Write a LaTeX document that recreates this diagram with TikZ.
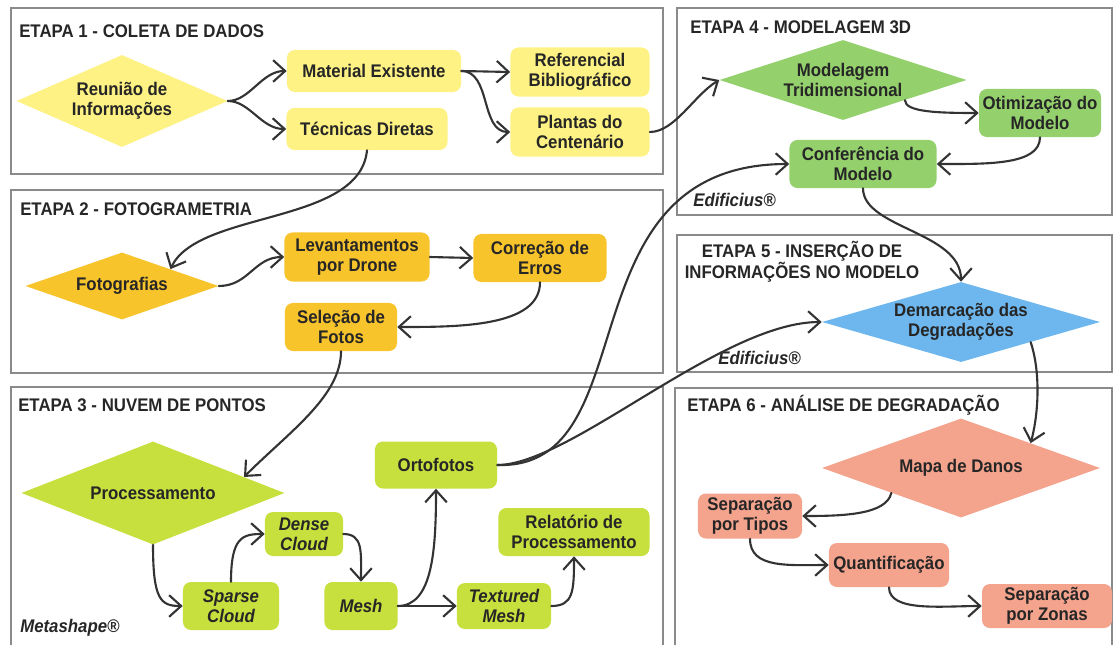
\documentclass[tikz,border=0pt]{standalone}
\usepackage{fontspec}
\setmainfont{Liberation Sans}[FakeStretch=0.92]
\usetikzlibrary{shapes.geometric,arrows.meta}
\definecolor{amarelo}{HTML}{FDF283}
\definecolor{laranja}{HTML}{F8C42C}
\definecolor{lima}{HTML}{C7E03E}
\definecolor{verde}{HTML}{94D16D}
\definecolor{azul}{HTML}{6DB7EE}
\definecolor{salmao}{HTML}{F4A38D}
\definecolor{moldura}{HTML}{8A8A8A}
\definecolor{tinta}{HTML}{262626}
\definecolor{seta}{HTML}{333333}

\begin{document}
\begin{tikzpicture}[x=0.025cm, y=-0.025cm,
		every node/.style={font=\bfseries\fontsize{13}{14.2}\selectfont, text=tinta},
		etapa/.style={draw=moldura, line width=1.8pt},
		titulo/.style={anchor=west, inner sep=0pt},
		caixa/.style={rounded corners=0.2cm, align=center, inner sep=0pt},
		losango/.style={diamond, align=center, inner sep=0pt},
		inclinado/.style={font=\bfseries\itshape\fontsize{13}{14.2}\selectfont},
		nota/.style={anchor=west, inner sep=0pt, inclinado},
		fluxo/.style={color=seta, line width=1.5pt, line cap=round, line join=round, -{Straight Barb[length=3mm, width=5.4mm]}}]
		
		\useasboundingbox (0,0) rectangle (1115,644);
		\fill[white] (0,0) rectangle (1115,644);
		\clip (0,0) rectangle (1115,644);
		
		% etapa 1
		\draw[etapa] (11,8) rectangle (663,174);
		\node[titulo] (t1) at (19,31) {ETAPA 1 - COLETA DE DADOS};
		\node[losango, aspect=2.3, fill=amarelo, minimum width=5.275cm, minimum height=2.3cm] (reuniao) at (122,101) {Reunião de\\Informações};
		\node[caixa, fill=amarelo, minimum width=4.35cm, minimum height=1.05cm] (material) at (374,71) {Material Existente};
		\node[caixa, fill=amarelo, minimum width=4.025cm, minimum height=1.05cm] (tecnicas) at (367,129) {Técnicas Diretas};
		\node[caixa, fill=amarelo, minimum width=3.475cm, minimum height=1.225cm] (referencial) at (580,72) {Referencial\\Bibliográfico};
		\node[caixa, fill=amarelo, minimum width=3.475cm, minimum height=1.225cm] (plantas) at (580,132) {Plantas do\\Centenário};
		
		% etapa 2
		\draw[etapa] (11,190) rectangle (663,373);
		\node[titulo] (t2) at (20,209) {ETAPA 2 - FOTOGRAMETRIA};
		\node[losango, aspect=2.9, fill=laranja, minimum width=4.825cm, minimum height=1.675cm] (fotografias) at (122,286) {Fotografias};
		\node[caixa, fill=laranja, minimum width=3.625cm, minimum height=1.225cm] (levantamentos) at (357,257) {Levantamentos\\por Drone};
		\node[caixa, fill=laranja, minimum width=3.325cm, minimum height=1.2cm] (correcao) at (540,258) {Correção de\\Erros};
		\node[caixa, fill=laranja, minimum width=2.8cm, minimum height=1.2cm] (selecao) at (341,327) {Seleção de\\Fotos};
		
		% etapa 3
		\draw[etapa] (11,387) rectangle (663,660);
		\node[titulo] (t3) at (18,405) {ETAPA 3 - NUVEM DE PONTOS};
		\node[losango, aspect=2.55, fill=lima, minimum width=6.575cm, minimum height=2.575cm] (processamento) at (153,493) {Processamento};
		\node[caixa, inclinado, fill=lima, minimum width=2.4cm, minimum height=1.2cm] (sparse) at (231,606) {Sparse\\Cloud};
		\node[caixa, inclinado, fill=lima, minimum width=1.95cm, minimum height=1.1cm] (dense) at (304,534) {Dense\\Cloud};
		\node[caixa, inclinado, fill=lima, minimum width=1.825cm, minimum height=1.2cm] (mesh) at (361,606) {Mesh};
		\node[caixa, fill=lima, minimum width=3.05cm, minimum height=1.175cm] (ortofotos) at (436,465) {Ortofotos};
		\node[caixa, inclinado, fill=lima, minimum width=2.35cm, minimum height=1.15cm] (textured) at (504,606) {Textured\\Mesh};
		\node[caixa, fill=lima, minimum width=3.775cm, minimum height=1.2cm] (relatorio) at (574,532) {Relatório de\\Processamento};
		\node[nota] (metashape) at (20,628) {Metashape®};
		
		% etapa 4
		\draw[etapa] (677,8) rectangle (1112,215);
		\node[titulo] (t4) at (690,27) {ETAPA 4 - MODELAGEM 3D};
		\node[losango, aspect=3.1, fill=verde, minimum width=6.175cm, minimum height=2cm] (modelagem) at (843,80) {Modelagem\\Tridimensional};
		\node[caixa, fill=verde, minimum width=3.05cm, minimum height=1.2cm] (otimizacao) at (1040,113) {Otimização do\\Modelo};
		\node[caixa, fill=verde, minimum width=3.675cm, minimum height=1.2cm] (conferencia) at (863,164) {Conferência do\\Modelo};
		\node[nota] (edificius1) at (693,200) {Edificius®};
		
		% etapa 5
		\draw[etapa] (677,235) rectangle (1112,372);
		\node[align=center, inner sep=0pt] (t5) at (802,262) {ETAPA 5 - INSERÇÃO DE\\INFORMAÇÕES NO MODELO};
		\node[losango, aspect=3.5, fill=azul, minimum width=6.95cm, minimum height=2cm] (demarcacao) at (961,322) {Demarcação das\\Degradações};
		\node[nota] (edificius2) at (718,358) {Edificius®};
		
		% etapa 6
		\draw[etapa] (675,388) rectangle (1112,660);
		\node[titulo] (t6) at (687,405) {ETAPA 6 - ANÁLISE DE DEGRADAÇÃO};
		\node[losango, aspect=2.8, fill=salmao, minimum width=6.95cm, minimum height=2.475cm] (mapa) at (961,468) {Mapa de Danos};
		\node[caixa, fill=salmao, minimum width=2.6cm, minimum height=1.125cm] (tipos) at (750,516) {Separação\\por Tipos};
		\node[caixa, fill=salmao, minimum width=3cm, minimum height=1.1cm] (quantificacao) at (889,565) {Quantificação};
		\node[caixa, fill=salmao, minimum width=3.25cm, minimum height=1.1cm] (zonas) at (1047,606) {Separação\\por Zonas};
		
		% setas etapa 1 e 2
		\draw[fluxo] (reuniao.east) .. controls +(22,0) and +(-25,0) .. (material.west);
		\draw[fluxo] (reuniao.east) .. controls +(22,0) and +(-25,0) .. (tecnicas.west);
		\draw[fluxo] (material.east) -- (referencial.west);
		\draw[fluxo] (material.east) .. controls +(30,0) and +(-30,0) .. (plantas.west);
		\draw[fluxo] (plantas.east) .. controls +(25,0) and +(-25,15) .. (modelagem.west);
		\draw[fluxo] (tecnicas.south) .. controls +(-7,75) and +(28,-59) .. (fotografias.north east);
		\draw[fluxo] (fotografias.east) .. controls +(30,0) and +(-30,0) .. (levantamentos.west);
		\draw[fluxo] (levantamentos.east) -- (correcao.west);
		\draw[fluxo] (correcao.south) .. controls +(0,45) and +(60,0) .. (selecao.east);
		
		% setas etapa 3
		\draw[fluxo] (selecao.south) .. controls +(0,45) and +(45,-45) .. (processamento.10);
		\draw[fluxo] (processamento.south) .. controls +(0,55) and +(-22,0) .. (sparse.west);
		\draw[fluxo] (sparse.north) .. controls +(0,-45) and +(-22,0) .. (dense.west);
		\draw[fluxo] (dense.east) .. controls +(20,0) and +(0,-30) .. (mesh.north);
		\draw[fluxo] (mesh.east) .. controls +(35,0) and +(0,60) .. (ortofotos.south);
		\draw[fluxo] (mesh.east) -- (textured.west);
		\draw[fluxo] (textured.east) .. controls +(22,0) and +(0,35) .. (relatorio.south);
		\draw[fluxo] (ortofotos.east) .. controls +(153,5) and +(-230,0) .. (conferencia.west);
		\draw[fluxo] (ortofotos.east) .. controls +(73,0) and +(-100,0) .. (demarcacao.west);
		
		% setas etapa 4, 5 e 6
		\draw[fluxo] (modelagem.south east) .. controls +(0,12) and +(-40,0) .. (otimizacao.west);
		\draw[fluxo] (otimizacao.south) .. controls +(0,28) and +(50,0) .. (conferencia.east);
		\draw[fluxo] (conferencia.south) .. controls +(0,40) and +(0,-50) .. (demarcacao.north);
		\draw[fluxo] (demarcacao.south east) .. controls +(10,30) and +(8,-30) .. (mapa.north east);
		\draw[fluxo] (mapa.south west) .. controls +(-5,22) and +(40,0) .. (tipos.east);
		\draw[fluxo] (tipos.south) .. controls +(0,30) and +(-40,0) .. (quantificacao.west);
		\draw[fluxo] (quantificacao.south) .. controls +(0,25) and +(-40,0) .. (zonas.west);
	\end{tikzpicture}
\end{document}
